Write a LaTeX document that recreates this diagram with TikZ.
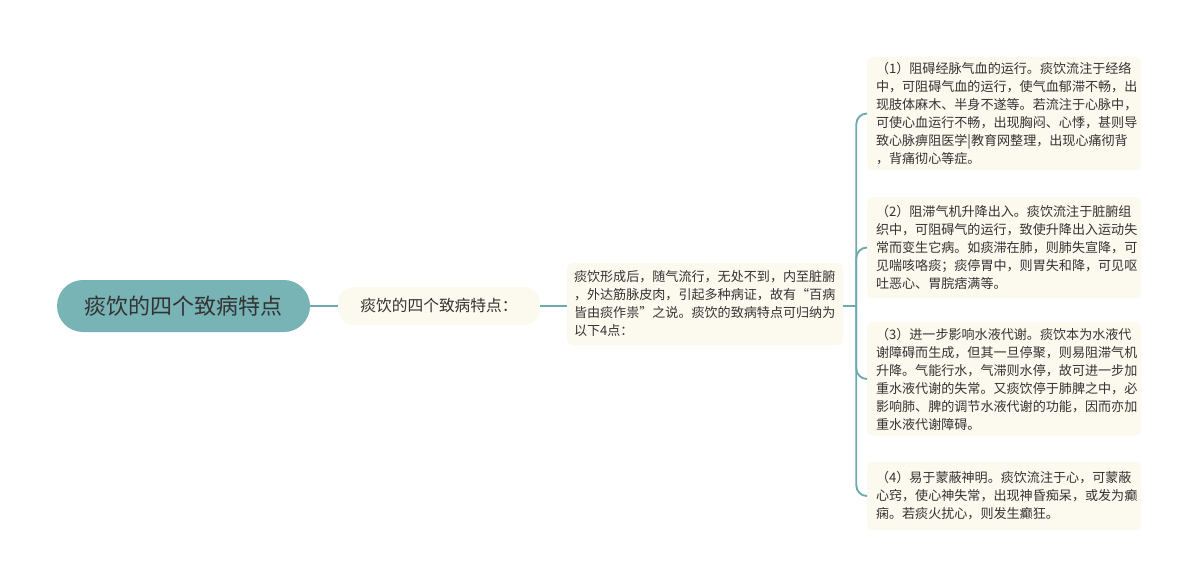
\documentclass[tikz,border=0pt]{standalone}
\usepackage{fontspec}
\setmainfont{Noto Sans CJK SC}
\usepackage{xcolor}
\usetikzlibrary{positioning,calc}

\definecolor{mapteal}{HTML}{78B3B5}
\definecolor{maplink}{HTML}{6EA9AD}
\definecolor{mapcream}{HTML}{FCF9EE}
\definecolor{maptext}{HTML}{333333}

\tikzset{
  rootbox/.style={fill=mapteal, rounded corners=19.5pt, minimum width=189.75pt,
    minimum height=39pt, inner sep=0pt, text=maptext, font=\fontsize{16.5}{20}\selectfont},
  topicbox/.style={fill=mapcream, rounded corners=12pt, minimum width=151.5pt,
    minimum height=28.5pt, inner sep=0pt, text=maptext, font=\fontsize{11.8}{14}\selectfont},
  notebox/.style={fill=mapcream, rounded corners=4pt, align=left, inner xsep=5.25pt,
    inner ysep=0pt, text=maptext, font=\fontsize{9.8}{13.5}\selectfont},
  link/.style={draw=maplink, line width=1.4pt}
}

\begin{document}
\begin{tikzpicture}[x=0.75pt,y=-0.75pt]
    \useasboundingbox (0,0) rectangle (1200,587);
    % Root and first branch
    \node[rootbox] (root) at (183.5,306) {痰饮的四个致病特点};
    \node[topicbox] (topic) at (439,306) {痰饮的四个致病特点：};
    \node[notebox, text width=196.5pt, minimum height=61.5pt] (intro) at (705,304)
      {痰饮形成后，随气流行，无处不到，内至脏腑\\，外达筋脉皮肉，引起多种病证，故有“百病\\皆由痰作祟”之说。痰饮的致病特点可归纳为\\以下4点：};
    % Four points
    \node[notebox, text width=192pt, inner xsep=6.75pt, minimum height=84.75pt] (pA) at (1004,113.5)
      {（1）阻碍经脉气血的运行。痰饮流注于经络\\中，可阻碍气血的运行，使气血郁滞不畅，出\\现肢体麻木、半身不遂等。若流注于心脉中，\\可使心血运行不畅，出现胸闷、心悸，甚则导\\致心脉痹阻医学|教育网整理，出现心痛彻背\\，背痛彻心等症。};
    \node[notebox, text width=192pt, inner xsep=6.75pt, minimum height=75.75pt] (pB) at (1004,247.5)
      {（2）阻滞气机升降出入。痰饮流注于脏腑组\\织中，可阻碍气的运行，致使升降出入运动失\\常而变生它病。如痰滞在肺，则肺失宣降，可\\见喘咳咯痰；痰停胃中，则胃失和降，可见呕\\吐恶心、胃脘痞满等。};
    \node[notebox, text width=192pt, inner xsep=6.75pt, minimum height=85.5pt] (pC) at (1004,379)
      {（3）进一步影响水液代谢。痰饮本为水液代\\谢障碍而生成，但其一旦停聚，则易阻滞气机\\升降。气能行水，气滞则水停，故可进一步加\\重水液代谢的失常。又痰饮停于肺脾之中，必\\影响肺、脾的调节水液代谢的功能，因而亦加\\重水液代谢障碍。};
    \node[notebox, text width=192pt, inner xsep=6.75pt, minimum height=51pt] (pD) at (1004,496)
      {（4）易于蒙蔽神明。痰饮流注于心，可蒙蔽\\心窍，使心神失常，出现神昏痴呆，或发为癫\\痫。若痰火扰心，则发生癫狂。};
    % Connectors
    \draw[link] (root.east) -- (topic.west);
    \draw[link] (topic.east) -- (intro.west |- topic.east);
    \coordinate (fork) at ($(intro.east)+(13,2)$);
    \draw[link] (intro.east |- fork) -- (fork);
    \foreach \p in {pA,pB,pC,pD}
      \draw[link, rounded corners=8pt] (fork) |- (\p.west);
\end{tikzpicture}
\end{document}
